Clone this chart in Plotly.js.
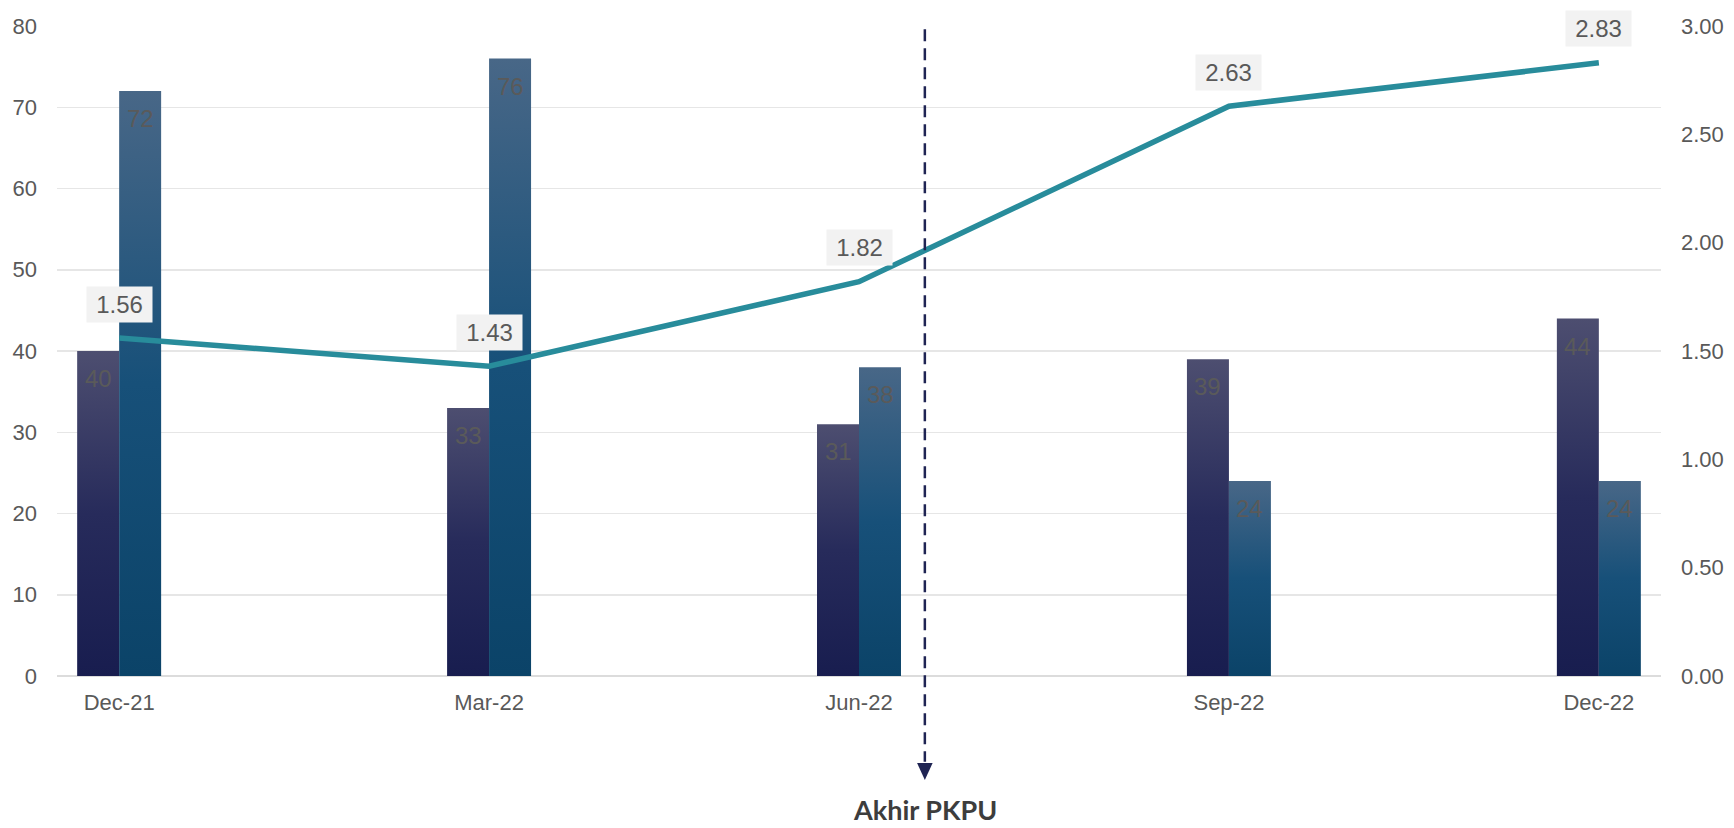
<!DOCTYPE html>
<html>
<head>
<meta charset="utf-8">
<script src="https://cdn.plot.ly/plotly-3.0.1.min.js"></script>
<style>
  html, body { margin: 0; padding: 0; background: #ffffff; }
  #chart { width: 1734px; height: 828px; }
</style>
</head>
<body>
<div id="chart"></div>
<script>
// ---- data ----
const categories = ["Dec-21", "Mar-22", "Jun-22", "Sep-22", "Dec-22"];
const seriesA = [40, 33, 31, 39, 44];
const seriesB = [72, 76, 38, 24, 24];
const lineValues = [1.56, 1.43, 1.82, 2.63, 2.83];
const lineLabels = ["1.56", "1.43", "1.82", "2.63", "2.83"];
const leftTicks = [0, 10, 20, 30, 40, 50, 60, 70, 80];
const rightTicks = [0, 0.5, 1, 1.5, 2, 2.5, 3];
const markerLabel = "Akhir PKPU";

// ---- style ----
const baseFamily = "Liberation Sans, Arial, sans-serif";
const tickFont = { family: baseFamily, size: 22, color: "#595959" };
const gridColor = "#e6e6e6";
const markerX = 2.178;   // position of the dashed marker between Jun-22 and Sep-22
const navy = "#1f2453";
const barLabelFont = { family: baseFamily, size: 24, color: "#5a5a5a" };

const traces = [
  {
    type: "bar", x: categories, y: seriesA, name: "A",
    marker: { color: "#2a2d5c", line: { width: 0 } }, hoverinfo: "skip"
  },
  {
    type: "bar", x: categories, y: seriesB, name: "B",
    marker: { color: "#1b5277", line: { width: 0 } }, hoverinfo: "skip"
  },
  {
    type: "scatter", mode: "lines", x: categories, y: lineValues, yaxis: "y2",
    line: { color: "#288c9b", width: 5.5 }, hoverinfo: "skip", cliponaxis: false
  }
];

const annotations = [];
// bar value labels (inside top of each bar)
[[seriesA, -21], [seriesB, 21]].forEach(([vals, dx]) => {
  vals.forEach((v, i) => annotations.push({
    x: categories[i], y: v, xref: "x", yref: "y",
    text: String(v), showarrow: false,
    xanchor: "center", yanchor: "top", xshift: dx, yshift: -12,
    font: barLabelFont
  }));
});
// line value labels
lineValues.forEach((v, i) => annotations.push({
  x: categories[i], y: v, xref: "x", yref: "y2",
  text: lineLabels[i], showarrow: false,
  yanchor: "middle", xanchor: "center", yshift: 34,
  bgcolor: "#f2f2f2", borderpad: 4, width: 57, align: "center",
  font: { family: baseFamily, size: 24, color: "#595959" }
}));
annotations.push({
  x: markerX, y: -0.2338, xref: "x", yref: "paper",
  text: "<b>" + markerLabel + "</b>", showarrow: false,
  xanchor: "center", yanchor: "bottom",
  font: { family: "Lato, Noto Sans, sans-serif", size: 27, color: "#3d3d3d" }
});

const layout = {
  width: 1734, height: 828,
  margin: { l: 57, r: 73, t: 26, b: 152 },
  paper_bgcolor: "#ffffff", plot_bgcolor: "#ffffff",
  showlegend: false, hovermode: false,
  barmode: "group", bargap: 0.773, bargroupgap: 0,
  xaxis: {
    type: "category", range: [-0.168, 4.168],
    showgrid: false, showline: false, zeroline: false, ticks: "",
    tickfont: tickFont, ticklabelstandoff: 11, fixedrange: true
  },
  yaxis: {
    range: [0, 80], tickvals: leftTicks, ticktext: leftTicks.map(String),
    showgrid: true, gridcolor: gridColor, gridwidth: 1.5,
    zeroline: true, zerolinecolor: "#dcdcdc", zerolinewidth: 2,
    showline: false, ticks: "", tickfont: tickFont, ticklabelstandoff: 19, fixedrange: true
  },
  yaxis2: {
    overlaying: "y", side: "right", range: [0, 3],
    tickvals: rightTicks, ticktext: rightTicks.map(v => v.toFixed(2)),
    showgrid: false, zeroline: false, showline: false, ticks: "",
    tickfont: tickFont, ticklabelstandoff: 19, fixedrange: true
  },
  shapes: [
    {
      type: "line", xref: "x", yref: "paper",
      x0: markerX, x1: markerX, y0: 0.995, y1: -0.132,
      line: { color: navy, width: 2.5, dash: "12px,7px" }, layer: "above"
    },
    {
      type: "path", xref: "x", yref: "paper",
      path: `M ${markerX - 0.021} -0.134 L ${markerX + 0.021} -0.134 L ${markerX} -0.16 Z`,
      fillcolor: navy, line: { width: 0 }, layer: "above"
    }
  ],
  annotations: annotations
};

Plotly.newPlot("chart", traces, layout, { displayModeBar: false, staticPlot: true }).then(gd => {
  const svg = gd.querySelector(".main-svg");
  const NS = "http://www.w3.org/2000/svg";
  const defs = document.createElementNS(NS, "defs");
  function grad(id, stops) {
    const g = document.createElementNS(NS, "linearGradient");
    g.setAttribute("id", id);
    g.setAttribute("x1", "0"); g.setAttribute("y1", "0");
    g.setAttribute("x2", "0"); g.setAttribute("y2", "1");
    stops.forEach(([o, c]) => {
      const s = document.createElementNS(NS, "stop");
      s.setAttribute("offset", o); s.setAttribute("stop-color", c);
      g.appendChild(s);
    });
    defs.appendChild(g);
  }
  grad("gradA", [["0", "#4d4e70"], ["0.5", "#272b5b"], ["1", "#181d4f"]]);
  grad("gradB", [["0", "#486787"], ["0.5", "#175079"], ["1", "#0b4368"]]);
  svg.insertBefore(defs, svg.firstChild);
  const barTraces = gd.querySelectorAll(".barlayer .trace.bars");
  barTraces.forEach((t, i) => {
    t.querySelectorAll(".point path").forEach(p => {
      p.style.fill = i === 0 ? "url(#gradA)" : "url(#gradB)";
    });
  });
});
</script>
</body>
</html>
